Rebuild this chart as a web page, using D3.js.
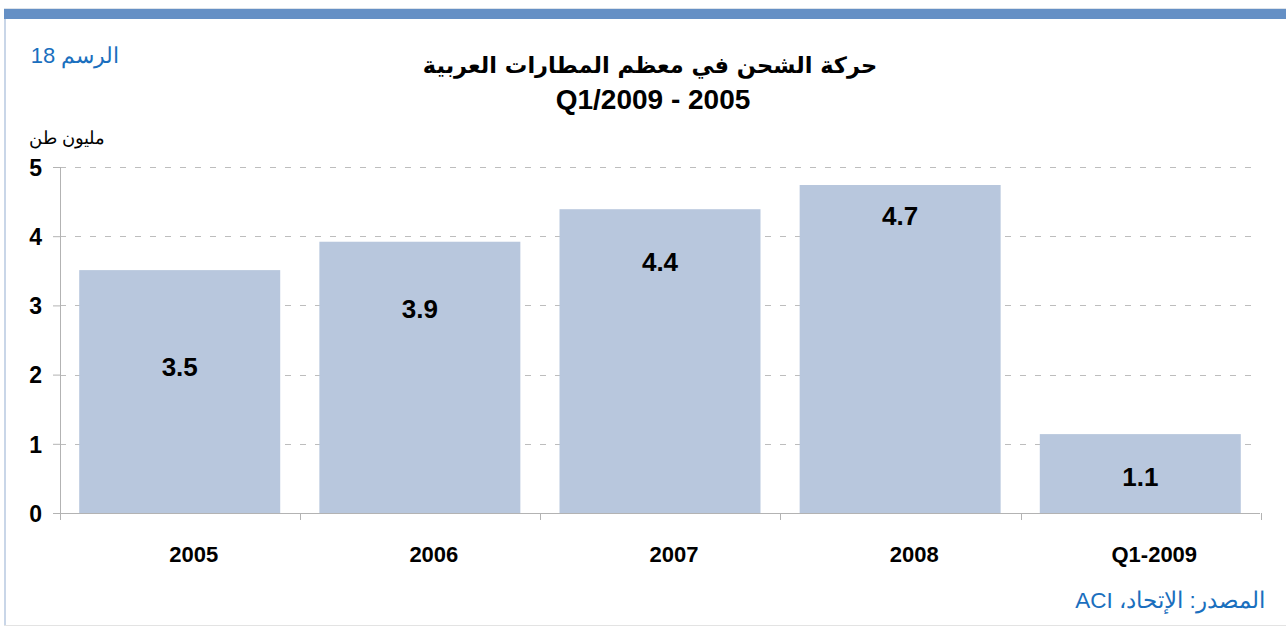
<!DOCTYPE html>
<html>
<head>
<meta charset="utf-8">
<script src="https://cdn.jsdelivr.net/npm/d3@7"></script>
<style>
  body { margin: 0; background: #fff; }
  svg { display: block; font-family: "Liberation Sans", Arial, sans-serif; }
</style>
</head>
<body>
<svg width="1286" height="628"></svg>
<script>
// data
var categories = ["2005", "2006", "2007", "2008", "Q1-2009"];
var freight = [3.51, 3.92, 4.39, 4.74, 1.14];
// level (in million tonnes) where each value label is centred inside its bar
var labelLevels = [2.12, 2.95, 3.63, 4.29, 0.52];
var yTicks = [0, 1, 2, 3, 4, 5];

var svg = d3.select("svg"),
    margin = {top: 167, right: 26, bottom: 115, left: 60},
    width = +svg.attr("width") - margin.left - margin.right,
    height = +svg.attr("height") - margin.top - margin.bottom;

// frame: top band, left rule, bottom rule
svg.append("rect").attr("x", 4).attr("y", 8).attr("width", 1282).attr("height", 1).attr("fill", "#dde3ea");
svg.append("rect").attr("x", 4).attr("y", 9).attr("width", 1282).attr("height", 10).attr("fill", "#6590c5");
svg.append("rect").attr("x", 4).attr("y", 19).attr("width", 2).attr("height", 606).attr("fill", "#c9d6e8");
svg.append("rect").attr("x", 4).attr("y", 625).attr("width", 1282).attr("height", 1).attr("fill", "#e3e3e3");

var g = svg.append("g")
    .attr("transform", "translate(" + margin.left + "," + margin.top + ")");

var x = d3.scaleBand()
    .domain(categories)
    .range([0, width])
    .paddingInner(0.163)
    .paddingOuter(0.08);

var y = d3.scaleLinear()
    .domain([0, 5])
    .range([height, 0]);

// dashed gridlines
g.append("g")
  .selectAll("line")
  .data(yTicks.slice(1))
  .enter().append("line")
  .attr("x1", 0)
  .attr("x2", width - 7)
  .attr("y1", function(d) { return Math.round(y(d)) + 0.5; })
  .attr("y2", function(d) { return Math.round(y(d)) + 0.5; })
  .attr("stroke", "#bdbdbd")
  .attr("stroke-dasharray", "6,9");

// bars
g.append("g")
  .selectAll("rect")
  .data(freight)
  .enter().append("rect")
  .attr("x", function(d, i) { return x(categories[i]); })
  .attr("y", function(d) { return y(d); })
  .attr("width", x.bandwidth())
  .attr("height", function(d) { return height - y(d); })
  .attr("fill", "#b8c7dd");

// value labels
g.append("g")
  .selectAll("text")
  .data(freight)
  .enter().append("text")
  .attr("x", function(d, i) { return x(categories[i]) + x.bandwidth() / 2; })
  .attr("y", function(d, i) { return y(labelLevels[i]); })
  .attr("dy", "0.36em")
  .attr("text-anchor", "middle")
  .attr("font-size", 26)
  .attr("font-weight", "bold")
  .attr("fill", "#000")
  .text(function(d) { return d.toFixed(1); });

// y axis
var yAxis = g.append("g")
  .call(d3.axisLeft(y).tickValues(yTicks).tickSize(7).tickPadding(11).tickFormat(d3.format("d")));
yAxis.select(".domain").attr("stroke", "#b3b3b3").attr("d", "M0.5," + height + "V0");
yAxis.selectAll(".tick line").attr("stroke", "#b3b3b3");
yAxis.selectAll(".tick text")
  .attr("font-family", "Liberation Sans, Arial, sans-serif")
  .attr("font-size", 23)
  .attr("font-weight", "bold")
  .attr("fill", "#000")
  .attr("dy", "0.36em");

// x axis
var xAxis = g.append("g")
  .attr("transform", "translate(0," + height + ")")
  .call(d3.axisBottom(x).tickSize(0).tickPadding(33));
xAxis.select(".domain").attr("stroke", "#b3b3b3").attr("d", "M-7,0.5H" + width);
xAxis.selectAll(".tick text")
  .attr("font-family", "Liberation Sans, Arial, sans-serif")
  .attr("font-size", 22)
  .attr("font-weight", "bold")
  .attr("fill", "#000")
  .attr("dx", 14);
// category separators
xAxis.append("g")
  .selectAll("line")
  .data(d3.range(categories.length + 1))
  .enter().append("line")
  .attr("x1", function(i) { return Math.round(i * x.step()) + 0.5; })
  .attr("x2", function(i) { return Math.round(i * x.step()) + 0.5; })
  .attr("y1", 0)
  .attr("y2", 7)
  .attr("stroke", "#b3b3b3");

// titles
svg.append("text")
  .attr("x", 650).attr("y", 73)
  .attr("text-anchor", "middle")
  .attr("direction", "rtl")
  .attr("font-family", "DejaVu Sans, Noto Sans, sans-serif")
  .attr("font-size", 22.5)
  .attr("font-weight", "bold")
  .text("حركة الشحن في معظم المطارات العربية");

svg.append("text")
  .attr("x", 653).attr("y", 109)
  .attr("text-anchor", "middle")
  .attr("font-size", 28)
  .attr("font-weight", "bold")
  .text("Q1/2009 - 2005");

svg.append("text")
  .attr("x", 75).attr("y", 63)
  .attr("text-anchor", "middle")
  .attr("direction", "rtl")
  .attr("font-size", 22)
  .attr("fill", "#1a6fbe")
  .text("الرسم 18");

svg.append("text")
  .attr("x", 67).attr("y", 144)
  .attr("text-anchor", "middle")
  .attr("direction", "rtl")
  .attr("font-size", 18)
  .attr("fill", "#000")
  .text("مليون طن");

svg.append("text")
  .attr("x", 1170).attr("y", 608)
  .attr("text-anchor", "middle")
  .attr("direction", "rtl")
  .attr("font-size", 22.5)
  .attr("fill", "#1a6fbe")
  .text("المصدر: الإتحاد، ACI");
</script>
</body>
</html>
